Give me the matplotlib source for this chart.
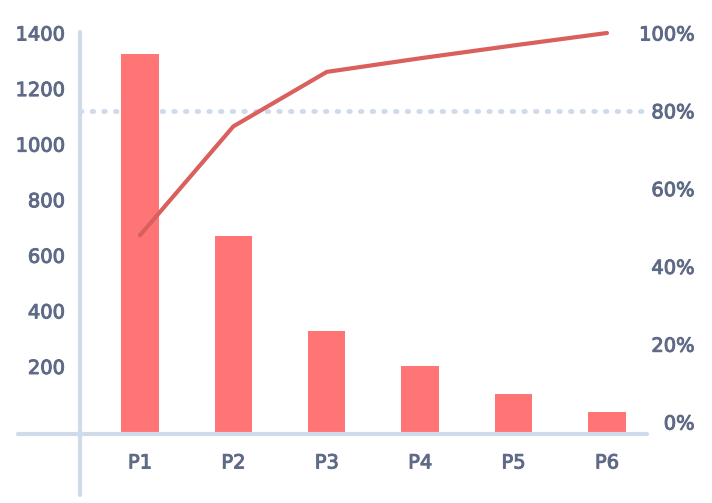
import matplotlib
matplotlib.use("Agg")
import matplotlib.pyplot as plt
import matplotlib.transforms as mtransforms
import matplotlib.patheffects as pe
import numpy as np

categories = ["P1", "P2", "P3", "P4", "P5", "P6"]
counts = [1325, 668, 328, 202, 100, 35]
cumulative_pct = [48, 76, 90, 93.5, 96.8, 100]
left_ticks = [200, 400, 600, 800, 1000, 1200, 1400]
right_ticks = [0, 20, 40, 60, 80, 100]
threshold_pct = 80

bar_color = "#ff7474"
line_color = "#d9605c"
axis_color = "#cfdaea"
text_color = "#5e6a86"

fig = plt.figure(figsize=(7.12, 5.03), dpi=100)
ax = fig.add_axes([0.1124, 0.1372, 0.7949, 0.7972])
ax2 = ax.twinx()

y_floor = -43
ax.set_ylim(y_floor, 1400)
ax2.set_ylim(y_floor / 1400 * 100, 100)
ax.set_xlim(-0.642, 5.418)

x = np.arange(len(categories))

# 80% threshold, drawn under the bars
blend = mtransforms.blended_transform_factory(ax.transAxes, ax2.transData)
ax.plot([0, 1], [threshold_pct, threshold_pct], transform=blend,
        color=axis_color, lw=3.5, ls=(0, (0.3, 2.1)), dash_capstyle="round",
        zorder=1)

# bars start at the drawn baseline, which sits a little below zero
ax.bar(x, np.array(counts) - y_floor, bottom=y_floor, width=0.4,
       color=bar_color, zorder=2)

ax2.plot(x, cumulative_pct, color=line_color, lw=3, solid_capstyle="round",
         solid_joinstyle="round", zorder=3, clip_on=False)

for a in (ax, ax2):
    for s in a.spines.values():
        s.set_visible(False)

# hand-drawn style axis lines
ax.plot([-0.1095, 1.002], [0, 0], transform=ax.transAxes, color=axis_color,
        lw=3, solid_capstyle="round", clip_on=False, zorder=4)
ax.plot([0, 0], [-0.152, 1.0025], transform=ax.transAxes, color=axis_color,
        lw=3, solid_capstyle="round", clip_on=False, zorder=4)

ax.set_xticks(x)
ax.set_xticklabels(categories)
ax.set_yticks(left_ticks)
ax.set_yticklabels([str(v) for v in left_ticks])
ax2.set_yticks(right_ticks)
ax2.set_yticklabels([f"{v}%" for v in right_ticks])

ax.tick_params(axis="x", length=0, pad=14, labelsize=14, labelcolor=text_color)
ax.tick_params(axis="y", length=0, pad=11, labelsize=14, labelcolor=text_color)
ax2.tick_params(axis="y", length=0, pad=35, labelsize=14, labelcolor=text_color)
for lab in ax2.get_yticklabels():
    lab.set_ha("right")

# slightly heavier labels
thick = [pe.withStroke(linewidth=0.7, foreground=text_color)]
for lab in ax.get_xticklabels() + ax.get_yticklabels() + ax2.get_yticklabels():
    lab.set_path_effects(thick)

fig.savefig("out.png", dpi=100)
